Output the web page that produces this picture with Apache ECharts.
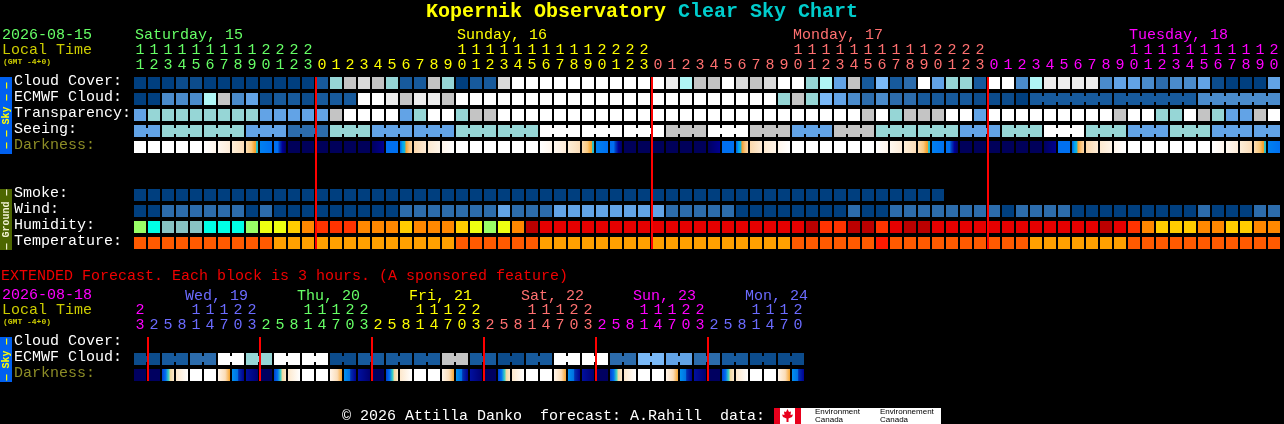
<!DOCTYPE html>
<html>
<head>
<meta charset="utf-8">
<style>html,body{margin:0;padding:0;background:#000}#c{width:1284px;height:424px}</style>
<script src="https://cdn.jsdelivr.net/npm/echarts@6/dist/echarts.min.js"></script>
</head>
<body>
<div id="c"></div>
<script>
// ---------- data ----------
const skyPalette = ['#003F7F','#0C4C8C','#175A9C','#2C6CAC','#4A8BCB','#62A3E6','#7AB9F7','#B0F6F6','#96D6D6','#C4C4C4','#DADADA','#EDEDED','#FFFFFF'];
const humidityPalette = ['#88C4C4','#00FFE6','#99FF66','#EEFF11','#FFCC00','#FF8800','#FF3300','#E60000','#BB0000'];
const temperaturePalette = ['#FF1A00','#FF5A00','#FFA000'];
const darknessStops = {
  W:['#FFFFFF','#FFFFFF'],
  a:['#FFFFFF','#FFF6EC'],
  b:['#FFF8F0','#FDECD8'],
  c:['#FDEED8','#FBDDB8'],
  d:[[0,'#FBDCB2'],[0.45,'#F9C97E'],[0.72,'#F6A531'],[0.82,'#F0A030'],[0.86,'#2EC4C4'],[1,'#20B8D0']],
  e:['#0080F0','#0070F0'],
  f:[[0,'#0070F0'],[0.3,'#0070F0'],[0.45,'#0040C0'],[0.7,'#000098'],[1,'#000060']],
  D:['#00005A','#00005A'],
  g:['#000060','#000090'],
  h:['#0070F0','#0070F0'],
  i:[[0,'#0060E0'],[0.2,'#00A0F0'],[0.4,'#18B8D8'],[0.5,'#F5A030'],[0.75,'#F9C27A'],[1,'#FBD7A8']],
  j:['#FBD8AC','#FDEBD6'],
  k:['#FDE9D0','#FEF4E8'],
  l:['#FFF6EC','#FFFFFF'],
  p:[[0,'#FFF5EA'],[0.6,'#FBDDB8'],[1,'#F6A531']],
  q:[[0,'#0090F0'],[0.5,'#0070E0'],[0.55,'#0030B0'],[1,'#000090']],
  r:['#000060','#000060'],
  s:[[0,'#0040D0'],[0.3,'#0070F0'],[0.55,'#40D0C0'],[0.7,'#F0D8A0'],[1,'#FDE8CC']],
  t:['#FDE8CC','#FFFFFF'],
  u:['#0010A0','#000070']
};
const dayColors = ['#66FF66','#FFFF00','#FF7070','#FF00FF','#6B6BFF'];

const hours = [11,12,13,14,15,16,17,18,19,20,21,22,23,
  0,1,2,3,4,5,6,7,8,9,10,11,12,13,14,15,16,17,18,19,20,21,22,23,
  0,1,2,3,4,5,6,7,8,9,10,11,12,13,14,15,16,17,18,19,20,21,22,23,
  0,1,2,3,4,5,6,7,8,9,10,11,12,13,14,15,16,17,18,19,20];
const hourDay = [0,0,0,0,0,0,0,0,0,0,0,0,0,
  1,1,1,1,1,1,1,1,1,1,1,1,1,1,1,1,1,1,1,1,1,1,1,1,
  2,2,2,2,2,2,2,2,2,2,2,2,2,2,2,2,2,2,2,2,2,2,2,2,
  3,3,3,3,3,3,3,3,3,3,3,3,3,3,3,3,3,3,3,3,3];
const dayNames = ['Saturday, 15','Sunday, 16','Monday, 17','Tuesday, 18'];
const dayNameCols = [0,23,47,71];
const dayNameColors = [0,1,2,3];
const midnightCols = [13,37,61];

const mainRows = ['Cloud Cover:','ECMWF Cloud:','Transparency:','Seeing:','Darkness:','','','Smoke:','Wind:','Humidity:','Temperature:'];

const cloudCover = [0,0,0,1,1,0,0,0,0,0,0,0,0,2,8,9,10,9,8,2,2,9,8,0,2,2,10,
  12,12,12,12,12,12,12,12,12,12,12,11,7,9,9,12,10,9,10,12,12,8,7,5,9,
  2,6,2,3,12,5,8,8,2,12,12,4,7,11,11,11,11,4,5,5,4,3,4,4,5,1,0,0,0,5];
const ecmwfCloud = [0,0,4,4,4,7,9,4,5,1,2,2,1,2,2,2,12,12,11,9,11,11,9,
  12,12,12,12,12,12,12,12,12,12,12,12,12,12,12,12,12,12,12,12,12,12,12,8,9,8,6,5,4,
  3,4,3,3,2,2,2,2,1,1,1,0,2,2,2,2,2,2,2,2,2,2,2,2,4,4,4,4,4,4];
const transparency = [5,8,8,8,8,8,8,8,8,5,5,5,5,5,9,12,12,12,12,5,8,12,12,8,9,9,
  12,12,12,12,12,12,12,12,12,12,12,12,12,12,12,12,12,12,12,12,12,12,12,12,12,12,
  9,12,8,9,9,9,12,12,5,12,12,12,12,12,12,12,12,12,9,12,12,8,8,12,9,8,5,5,9,12];
const seeing = [5,5,8,8,8,8,8,8,5,5,5,3,3,3,8,8,8,5,5,5,5,5,5,8,8,8,8,8,8,
  12,12,12,12,12,12,12,12,12,9,9,9,12,12,12,9,9,9,5,5,5,9,9,9,8,8,8,8,8,8,
  5,5,5,8,8,8,12,12,12,8,8,8,5,5,5,8,8,8,5,5,5,5,5];
const darkness = ['W','W','W','W','W','a','b','c','d','e','f','D','D','D','D','D','D','g','h','i','j','k','l',
  'W','W','W','W','W','W','a','b','c','d','e','f','D','D','D','D','D','D','g','h','i','j','k','l',
  'W','W','W','W','W','W','a','b','c','d','e','f','D','D','D','D','D','D','g','h','i','j','k','l',
  'W','W','W','W','W','W','a','b','c','d','e'];
const smoke = [0,0,0,0,0,0,0,0,0,0,0,0,0,0,0,0,0,0,0,0,0,0,0,0,0,0,0,0,0,0,
  0,0,0,0,0,0,0,0,0,0,0,0,0,0,0,0,0,0,0,0,0,0,0,0,0,0,0,0];
const wind = [0,0,3,3,3,3,3,3,0,3,0,0,0,0,0,0,0,0,0,3,3,3,3,3,3,3,5,3,3,3,
  5,5,5,5,5,5,5,5,3,3,3,3,3,0,0,0,0,0,0,0,0,3,0,0,3,3,3,3,3,3,3,3,0,3,3,3,3,
  0,0,0,0,0,0,0,0,0,3,0,0,0,3,3];
const humidity = [2,1,0,0,0,1,1,1,2,3,3,4,5,6,6,6,5,5,5,4,5,5,5,4,3,2,3,5,8,
  7,7,7,7,7,7,7,7,7,7,7,7,7,7,7,7,7,7,7,8,6,6,8,8,6,7,8,8,
  7,7,7,7,7,7,7,7,7,7,7,7,8,7,6,5,4,4,4,5,5,4,4,5,5];
const temperature = [1,1,1,1,1,1,1,1,1,1,2,2,2,2,2,2,2,2,2,2,2,2,2,1,1,1,1,1,1,
  2,2,2,2,2,2,2,2,2,2,2,2,2,2,2,2,2,2,1,1,1,1,1,1,0,
  1,1,1,1,1,1,1,1,1,1,2,2,2,2,2,2,2,1,1,1,1,1,1,1,1,1,1,1];

const extHours = [23,2,5,8,11,14,17,20,23,2,5,8,11,14,17,20,23,2,5,8,11,14,17,20,23,
  2,5,8,11,14,17,20,23,2,5,8,11,14,17,20,23,2,5,8,11,14,17,20];
const extDay = [3,4,4,4,4,4,4,4,4,0,0,0,0,0,0,0,0,1,1,1,1,1,1,1,1,2,2,2,2,2,2,2,2,3,3,3,3,3,3,3,3,4,4,4,4,4,4,4];
const extDayNames = ['Wed, 19','Thu, 20','Fri, 21','Sat, 22','Sun, 23','Mon, 24'];
const extDayNameCols = [4,12,20,28,36,44];
const extDayNameColors = [4,0,1,2,3,4];
const extMidnightCols = [1,9,17,25,33,41];
const extRows = ['Cloud Cover:','ECMWF Cloud:','Darkness:'];
const extEcmwf = [1,1,2,2,3,3,12,12,8,8,12,12,12,12,1,1,2,2,2,2,2,2,9,9,2,2,1,1,2,2,12,12,12,12,3,3,6,6,5,5,3,3,2,2,1,1,1,1];
const extDarkness = ['r','r','s','t','W','W','p','q','u','r','s','t','W','W','p','q','u','r','s','t','W','W','p','q',
  'u','r','s','t','W','W','p','q','u','r','s','t','W','W','p','q','u','r','s','t','W','W','p','q'];

// ---------- build ----------
const MONO = '"Liberation Mono", monospace';
function fillFor(code) {
  const s = darknessStops[code];
  const stops = (typeof s[0] === 'string')
    ? [{offset:0,color:s[0]},{offset:1,color:s[1]}]
    : s.map(p => ({offset:p[0],color:p[1]}));
  return new echarts.graphic.LinearGradient(0,0,1,0,stops);
}
function addRow(items, row, values, colorOf, joined) {
  values.forEach((v,col) => items.push({col,row,fill:colorOf(v),bridge:!!(joined && col<values.length-1 && joined(col))}));
}
const mainItems = [], extItems = [];
const sky = v => skyPalette[v];
addRow(mainItems,0,cloudCover,sky);
addRow(mainItems,1,ecmwfCloud,sky,c => c>=64 && (c+1-64)%6!==0);
addRow(mainItems,2,transparency,sky);
addRow(mainItems,3,seeing,sky,c => (c+1-2)%3!==0);
addRow(mainItems,4,darkness,fillFor);
addRow(mainItems,7,smoke,sky);
addRow(mainItems,8,wind,sky);
addRow(mainItems,9,humidity,v => humidityPalette[v]);
addRow(mainItems,10,temperature,v => temperaturePalette[v]);
addRow(extItems,1,extEcmwf,sky,c => c%2===0);
addRow(extItems,2,extDarkness,fillFor);

function cellSeries(items,xi,yi){
  return {type:'custom',xAxisIndex:xi,yAxisIndex:yi,silent:true,clip:false,
    data:items.map(i=>[i.col,i.row]),encode:{x:0,y:1},
    renderItem(params,api){
      const it=items[params.dataIndex];
      const p=api.coord([api.value(0),api.value(1)]);
      const x=p[0]-6,y=p[1]-6;
      const children=[{type:'rect',shape:{x,y,width:12,height:12},style:{fill:it.fill}}];
      if(it.bridge) children.push({type:'rect',shape:{x:x+12,y:y+3,width:2,height:6},style:{fill:it.fill}});
      return {type:'group',children};
    }};
}
function dividerSeries(cols,lastRow,xi,yi){
  return {type:'custom',xAxisIndex:xi,yAxisIndex:yi,silent:true,clip:false,z:5,
    data:cols.map(c=>[c,0]),encode:{x:0,y:1},
    renderItem(params,api){
      const a=api.coord([api.value(0),0]),b=api.coord([api.value(0),lastRow]);
      return {type:'rect',shape:{x:a[0]-7,y:a[1]-6,width:2,height:b[1]-a[1]+12},style:{fill:'#FF0000'}};
    }};
}
function dayNameSeries(cols,names,colors,dx,dy,xi,yi){
  return {type:'custom',xAxisIndex:xi,yAxisIndex:yi,silent:true,clip:false,
    data:cols.map(c=>[c,0]),encode:{x:0,y:1},
    renderItem(params,api){
      const p=api.coord([api.value(0),0]);
      return {type:'text',style:{x:p[0]+dx,y:p[1]+dy,text:names[params.dataIndex],
        fill:dayColors[colors[params.dataIndex]],font:'15px '+MONO,verticalAlign:'middle',align:'left'}};
    }};
}
function hourAxis(grid,hrs,days,digit,offset){
  return {type:'category',gridIndex:grid,position:'top',offset,
    axisLine:{show:false},axisTick:{show:false},splitLine:{show:false},
    axisLabel:{interval:0,margin:2,fontFamily:'Liberation Mono',fontSize:15,hideOverlap:false,
      color:(v,i)=>dayColors[days[i]]},
    data:hrs.map(digit)};
}
const ones=h=>String(h%10), tens=h=>h>=10?String(Math.floor(h/10)):'';
function rowAxis(grid,rows){
  return {type:'category',gridIndex:grid,inverse:true,
    axisLine:{show:false},axisTick:{show:false},splitLine:{show:false},
    axisLabel:{interval:0,align:'left',verticalAlign:'bottom',lineHeight:4,margin:119,fontFamily:'Liberation Mono',fontSize:15,
      color:v=>v==='Darkness:'?'#8C8C26':'#FFFFFF'},
    data:rows};
}
function txt(x,y,text,fill,size,extra){
  return Object.assign({type:'text',x,y,silent:true,style:Object.assign({text,fill,font:(size||'15px')+' '+MONO,verticalAlign:'middle',align:'left'},extra||{})});
}
function rect(x,y,w,h,fill){return {type:'rect',silent:true,shape:{x,y,width:w,height:h},style:{fill}};}
function side(cy,text,fill){
  return {type:'text',x:6,y:cy,rotation:Math.PI/2,silent:true,style:{text,fill,font:'bold 10px '+MONO,align:'center',verticalAlign:'middle'}};
}
const option = {
  backgroundColor:'#000',animation:false,
  title:{left:426,top:2,padding:0,text:'{a|Kopernik Observatory }{b|Clear Sky Chart}',
    textStyle:{rich:{a:{fontFamily:'Liberation Mono',fontWeight:'bold',fontSize:20,color:'#FFFF00'},
                     b:{fontFamily:'Liberation Mono',fontWeight:'bold',fontSize:20,color:'#00CCCC'}}}},
  grid:[{left:133,top:75,width:1148,height:176,outerBoundsMode:'none'},{left:133,top:335,width:672,height:48,outerBoundsMode:'none'}],
  xAxis:[hourAxis(0,hours,hourDay,ones,0),hourAxis(0,hours,hourDay,tens,15),
         hourAxis(1,extHours,extDay,ones,0),hourAxis(1,extHours,extDay,tens,15)],
  yAxis:[rowAxis(0,mainRows),rowAxis(1,extRows)],
  series:[cellSeries(mainItems,0,0),cellSeries(extItems,2,1),
    dividerSeries(midnightCols,10,0,0),dividerSeries(extMidnightCols,2,2,1),
    dayNameSeries(dayNameCols,dayNames,dayNameColors,-5,-48,0,0),
    dayNameSeries(extDayNameCols,extDayNames,extDayNameColors,-11,-47,2,1)],
  graphic:[
    txt(2,35,'2026-08-15','#66FF66'),txt(2,50,'Local Time','#CCCC00'),
    txt(3,62,'(GMT -4+0)','#CCCC00','bold 8px'),
    rect(0,77,12,77,'#0060F0'),side(115.5,'\u2014 \u2014 Sky \u2014 \u2014','#FFFF00'),
    rect(0,189,12,61,'#4D6600'),side(219.5,'\u2014 Ground \u2014','#F0F0D0'),
    txt(1,276,'EXTENDED Forecast. Each block is 3 hours. (A sponsored feature)','#F00000'),
    txt(2,295,'2026-08-18','#FF00FF'),txt(2,310,'Local Time','#CCCC00'),
    txt(3,322,'(GMT -4+0)','#CCCC00','bold 8px'),
    rect(0,337,12,45,'#0060F0'),side(359.5,'\u2014 Sky \u2014','#FFFF00'),
    txt(342,416,'\u00A9 2026 Attilla Danko  forecast: A.Rahill  data:','#FFFFFF'),
    rect(774,408,167,16,'#FFFFFF'),rect(774,408,6,16,'#E8001C'),rect(795,408,6,16,'#E8001C'),
    {type:'polygon',silent:true,shape:{points:[[787.5,409],[789,412],[791,411.5],[790.5,415],[793,414.5],[792,417],[788.5,418.5],[788.5,422],[786.5,422],[786.5,418.5],[783,417],[782,414.5],[784.5,415],[784,411.5],[786,412]]},style:{fill:'#E8001C'}},
    txt(815,412,'Environment','#000000','8px',{font:'8px "Liberation Sans"'}),
    txt(815,420,'Canada','#000000','8px',{font:'8px "Liberation Sans"'}),
    txt(880,412,'Environnement','#000000','8px',{font:'8px "Liberation Sans"'}),
    txt(880,420,'Canada','#000000','8px',{font:'8px "Liberation Sans"'})
  ]
};
const chart = echarts.init(document.getElementById('c'),null,{renderer:'canvas'});
chart.setOption(option);
</script>
</body>
</html>
